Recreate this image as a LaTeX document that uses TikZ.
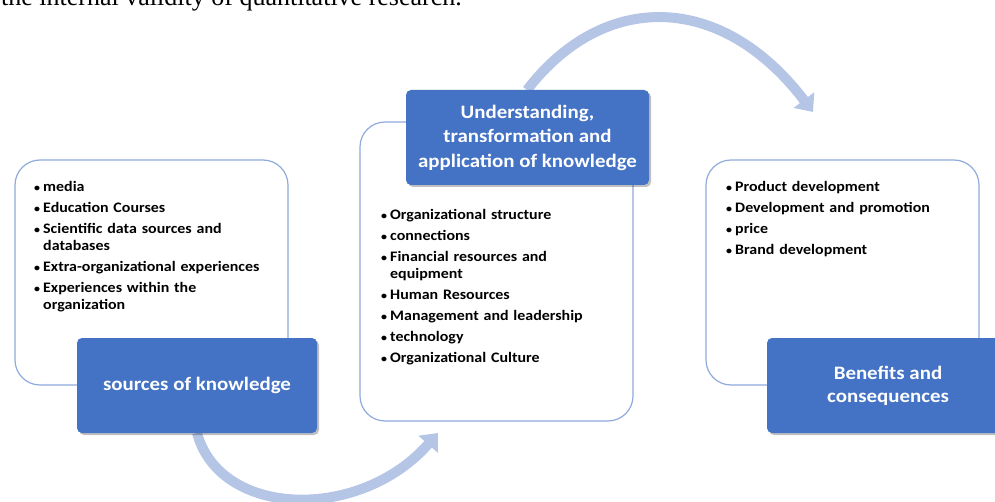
\documentclass[tikz,border=0pt]{standalone}
\usepackage{fontspec}
\setmainfont{Carlito}[FakeStretch=1.1]
\newfontfamily\pagefont{Liberation Serif}
\usetikzlibrary{arrows.meta,shadows}

\definecolor{boxblue}{HTML}{4472C4}
\definecolor{lineblue}{HTML}{8FAADC}
\definecolor{arcblue}{HTML}{B4C5E6}

% one bullet line, hanging indent for wrapped text
\newcommand{\itm}[1]{\par\hangindent=9pt\hangafter=1\noindent\makebox[9pt][l]{\scalebox{0.75}{\textbullet}}#1\par\vspace{4pt}}

\tikzset{
	listbox/.style={draw=lineblue, line width=1.2pt, fill=white, rounded corners=25pt, inner sep=0pt},
	headbox/.style={fill=boxblue, rounded corners=5pt, text=white, align=center, inner sep=0pt,
		font=\bfseries\fontsize{19}{24.5}\selectfont,
		drop shadow={shadow xshift=2pt, shadow yshift=-2pt, opacity=0.25, fill=black}},
	itemlist/.style={anchor=north west, inner sep=0pt, text width=260pt, align=left,
		font=\bfseries\fontsize{14.5}{17}\selectfont},
	bigarc/.style={draw=arcblue, line width=10pt, -{Triangle[length=15pt,width=25pt]}}
}

\begin{document}
\begin{tikzpicture}[x=1pt, y=-1pt]
	\useasboundingbox (0,0) rectangle (995,502);
	
	%page text above the figure
	\node (pagetext) [anchor=base west, inner sep=0pt, font=\pagefont\fontsize{26}{30}\selectfont] at (1,6)
		{the internal validity of quantitative research.};
	
	%curved arrows
	\coordinate (lowstart) at (197,433);
	\coordinate (lowend) at (438,433);
	\coordinate (topstart) at (527,90);
	\coordinate (topend) at (813,112);
	\draw[bigarc] (lowstart) .. controls (220,518) and (360,522) .. (lowend);
	\draw[bigarc] (topstart) .. controls (603,-9) and (721,-9) .. (topend);
	
	%white boxes
	\node (srcbox) [listbox, minimum width=273pt, minimum height=225pt] at (151.5,272.5) {};
	\node (usebox) [listbox, minimum width=273pt, minimum height=299pt] at (496.5,271.5) {};
	\node (benbox) [listbox, minimum width=273pt, minimum height=225pt] at (842.5,272.5) {};
	
	%lists
	\node (srclist) [itemlist] at (34,174) {%
		\itm{media}
		\itm{Education Courses}
		\itm{Scientific data sources and\newline databases}
		\itm{Extra-organizational experiences}
		\itm{Experiences within the\newline organization}};
	\node (uselist) [itemlist] at (381,202) {%
		\itm{Organizational structure}
		\itm{connections}
		\itm{Financial resources and\newline equipment}
		\itm{Human Resources}
		\itm{Management and leadership}
		\itm{technology}
		\itm{Organizational Culture}};
	\node (benlist) [itemlist] at (726,174) {%
		\itm{Product development}
		\itm{Development and promotion}
		\itm{price}
		\itm{Brand development}};
	
	%blue heads
	\node (srchead) [headbox, minimum width=240pt, minimum height=95pt] at (197,385.5) {sources of knowledge};
	\node (usehead) [headbox, minimum width=243pt, minimum height=95pt] at (527.5,137.5)
		{Understanding,\\transformation and\\application of knowledge};
	\node (benhead) [headbox, minimum width=242pt, minimum height=95pt, font=\bfseries\fontsize{19}{23}\selectfont]
		at (888,385.5) {\raisebox{-2pt}{\parbox{200pt}{\centering Benefits and\\consequences}}};
\end{tikzpicture}
\end{document}
